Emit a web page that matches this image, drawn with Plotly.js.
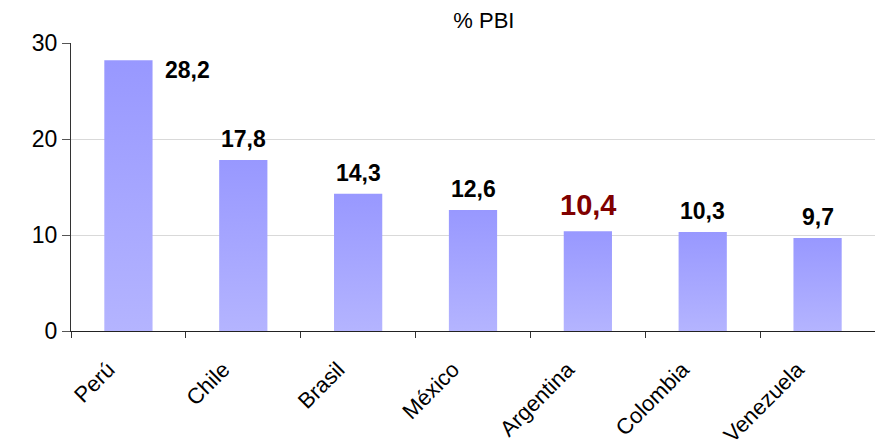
<!DOCTYPE html>
<html>
<head>
<meta charset="utf-8">
<script src="https://cdn.plot.ly/plotly-3.0.1.min.js"></script>
<style>
html,body{margin:0;padding:0;background:#fff;overflow:hidden;}
#chart{width:875px;height:440px;}
</style>
</head>
<body>
<div id="chart"></div>
<script>
var countries = ["Perú", "Chile", "Brasil", "México", "Argentina", "Colombia", "Venezuela"];
var values = [28.2, 17.8, 14.3, 12.6, 10.4, 10.3, 9.7];
var yTicks = [0, 10, 20, 30];
var highlight = "Argentina";
var sideLabel = "Perú";

var FONT = "Arial, 'Liberation Sans', sans-serif";

function fmt(v) { return v.toFixed(1).replace(".", ","); }

var annotations = countries.map(function (c, i) {
  var a = {
    x: c, y: values[i], xref: "x", yref: "y",
    text: fmt(values[i]), showarrow: false,
    font: {family: FONT, size: 23, color: "#000", weight: "bold"},
    xanchor: "center", yanchor: "bottom", yshift: 6
  };
  if (c === highlight) {
    a.font = {family: FONT, size: 29, color: "#800000", weight: "bold"};
    a.yshift = 8;
  }
  if (c === sideLabel) {
    a.xanchor = "left"; a.yanchor = "middle"; a.xshift = 35; a.yshift = -10;
  }
  return a;
});

var trace = {
  type: "bar",
  x: countries,
  y: values,
  marker: {color: "#a6a6ff", line: {width: 0}},
  hoverinfo: "none"
};

var layout = {
  width: 875, height: 440,
  margin: {l: 71, r: 0, t: 43, b: 109},
  paper_bgcolor: "#fff", plot_bgcolor: "#fff",
  showlegend: false,
  bargap: 0.58,
  font: {family: FONT, color: "#000"},
  title: {text: "% PBI", font: {family: FONT, size: 22, color: "#000"}, x: 0.553, xanchor: "center", y: 0.955, yanchor: "middle"},
  xaxis: {
    type: "category",
    tickson: "boundaries",
    ticks: "outside", ticklen: 6, tickcolor: "#333", tickwidth: 1,
    showline: true, linecolor: "#222", linewidth: 1,
    tickangle: -45,
    ticklabelstandoff: 16,
    ticklabelshift: -20,
    tickfont: {family: FONT, size: 22, color: "#000"},
    showgrid: false
  },
  yaxis: {
    range: [0, 30],
    tickvals: yTicks,
    ticktext: yTicks.map(String),
    ticks: "outside", ticklen: 8, tickcolor: "#555", tickwidth: 1,
    showline: true, linecolor: "#333", linewidth: 1,
    showgrid: true, gridcolor: "#d9d9d9", gridwidth: 1,
    zeroline: false,
    tickfont: {family: FONT, size: 23, color: "#000"}
  },
  annotations: annotations
};

Plotly.newPlot("chart", [trace], layout, {displayModeBar: false, staticPlot: true}).then(function (gd) {
  var svg = gd.querySelector("svg.main-svg");
  var ns = "http://www.w3.org/2000/svg";
  var defs = svg.querySelector("defs") || svg.insertBefore(document.createElementNS(ns, "defs"), svg.firstChild);
  var g = document.createElementNS(ns, "linearGradient");
  g.setAttribute("id", "barGrad");
  g.setAttribute("x1", "0"); g.setAttribute("y1", "0");
  g.setAttribute("x2", "0"); g.setAttribute("y2", "1");
  [["0", "#9898ff"], ["1", "#b4b4ff"]].forEach(function (s) {
    var st = document.createElementNS(ns, "stop");
    st.setAttribute("offset", s[0]);
    st.setAttribute("stop-color", s[1]);
    g.appendChild(st);
  });
  defs.appendChild(g);
  gd.querySelectorAll(".bars path").forEach(function (p) {
    p.style.fill = "url(#barGrad)";
  });
});
</script>
</body>
</html>
